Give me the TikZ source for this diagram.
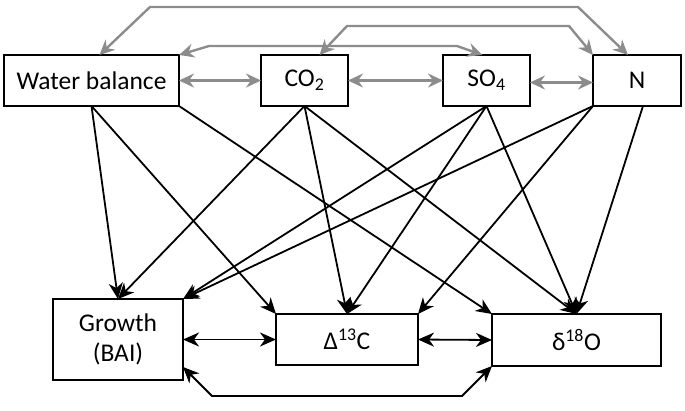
\documentclass[tikz,border=0pt]{standalone}
\usepackage{fontspec}
\setmainfont{Carlito}
\usetikzlibrary{arrows.meta}
\definecolor{arrgray}{RGB}{140,140,140}
\begin{document}
\begin{tikzpicture}[x=1pt,y=-1pt,
  box/.style={draw,line width=2pt,minimum height=51pt,inner sep=0pt,outer sep=0pt,font=\fontsize{25.5}{30}\selectfont},
  blk/.style={line width=1.8pt,-{Stealth[length=16pt,width=14pt,inset=5pt]}},
  blkd/.style={line width=1.8pt,{Stealth[length=16pt,width=14pt,inset=5pt]}-{Stealth[length=16pt,width=14pt,inset=5pt]}},
  gline/.style={arrgray,line width=2.4pt,{Stealth[length=15pt,width=14pt,inset=5pt]}-{Stealth[length=15pt,width=14pt,inset=5pt]}}
]
\useasboundingbox (0,0) rectangle (685,410);
% boxes
\node[box,minimum width=175pt] (wb) at (91.5,80.5) {Water balance};
\node[box,minimum width=87pt] (co2) at (304.5,80.5) {CO\textsubscript{2}};
\node[box,minimum width=87pt] (so4) at (486.5,80.5) {SO\textsubscript{4}};
\node[box,minimum width=88pt] (n) at (637,80.5) {N};
\node[box,minimum width=130pt,minimum height=81pt,align=center] (gr) at (118,339.5) {Growth\\(BAI)};
\node[box,minimum width=142pt] (d13) at (347,339.5) {Δ\textsuperscript{13}C};
\node[box,minimum width=169pt,minimum height=52pt] (d18) at (576.5,340) {δ\textsuperscript{18}O};
% bend points
\coordinate (o1) at (150,7);
\coordinate (o2) at (578,7);
\coordinate (m1) at (209,46);
\coordinate (m2) at (457,46);
\coordinate (i1) at (347,26);
\coordinate (i2) at (569,26);
\coordinate (b1) at (212,396);
\coordinate (b2) at (462,396);
% gray connectors
\draw[gline] (wb.east) -- (co2.west);
\draw[gline] (co2.east) -- (so4.west);
\draw[gline] ([yshift=-2pt]so4.east) -- ([yshift=-2pt]n.west);
\draw[gline] ([xshift=8pt]wb.north) -- (o1) -- (o2) -- ([xshift=-9pt]n.north);
\draw[gline] (wb.north east) -- (m1) -- (m2) -- ([xshift=-4pt]so4.north);
\draw[gline] ([xshift=15pt]co2.north) -- (i1) -- (i2) -- (n.north west);
% black connectors
\draw[blk] (wb.south) -- (gr.north);
\draw[blk] (wb.south) -- (d13.north west);
\draw[blk] (wb.south east) -- (d18.north west);
\draw[blk] (co2.south) -- (gr.north);
\draw[blk] (co2.south) -- (d13.north);
\draw[blk] (co2.south) -- (d18.north);
\draw[blk] (so4.south) -- (gr.north east);
\draw[blk] (so4.south) -- (d13.north);
\draw[blk] (so4.south) -- (d18.north);
\draw[blk] (n.south west) -- (gr.north east);
\draw[blk] (n.south west) -- (d13.north east);
\draw[blk] ([xshift=6pt]n.south) -- (d18.north);
\draw[blkd] (gr.east) -- (d13.west);
\draw[blkd] (d13.east) -- (d18.west);
\draw[blkd] ([yshift=13pt]gr.south east) -- (b1) -- (b2) -- (d18.south west);
\end{tikzpicture}
\end{document}
